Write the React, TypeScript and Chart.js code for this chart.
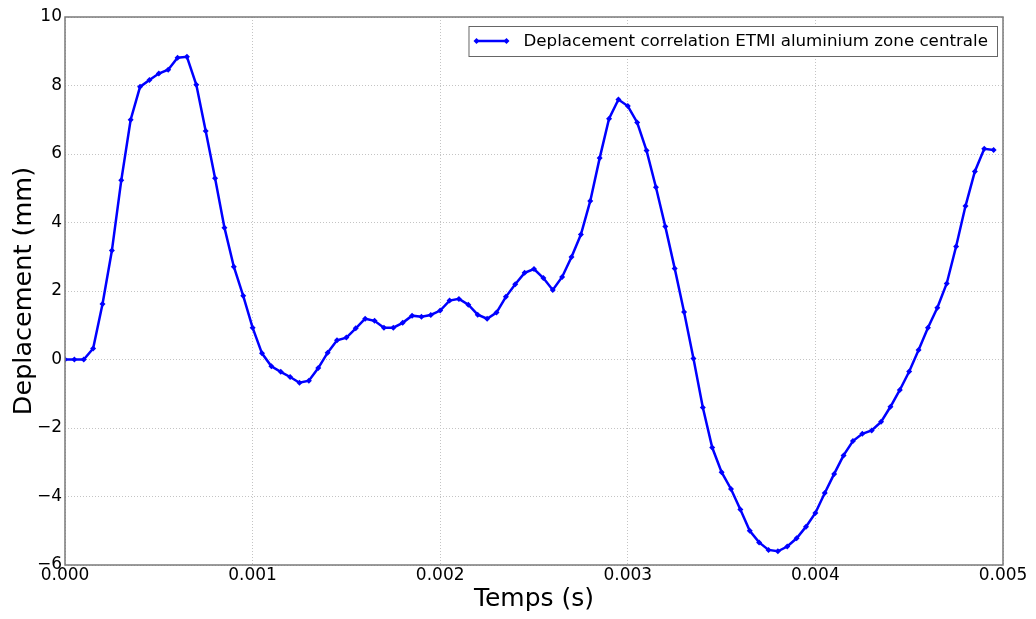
import React, { useEffect, useRef } from "react";
import { Chart, registerables } from "chart.js";

Chart.register(...registerables);

const TIMES: number[] = [
  0, 0.00005, 0.0001, 0.00015, 0.0002, 0.00025, 0.0003, 0.00035, 0.0004, 0.00045,
  0.0005, 0.00055, 0.0006, 0.00065, 0.0007, 0.00075, 0.0008, 0.00085, 0.0009, 0.00095,
  0.001, 0.00105, 0.0011, 0.00115, 0.0012, 0.00125, 0.0013, 0.00135, 0.0014, 0.00145,
  0.0015, 0.00155, 0.0016, 0.00165, 0.0017, 0.00175, 0.0018, 0.00185, 0.0019, 0.00195,
  0.002, 0.00205, 0.0021, 0.00215, 0.0022, 0.00225, 0.0023, 0.00235, 0.0024, 0.00245,
  0.0025, 0.00255, 0.0026, 0.00265, 0.0027, 0.00275, 0.0028, 0.00285, 0.0029, 0.00295,
  0.003, 0.00305, 0.0031, 0.00315, 0.0032, 0.00325, 0.0033, 0.00335, 0.0034, 0.00345,
  0.0035, 0.00355, 0.0036, 0.00365, 0.0037, 0.00375, 0.0038, 0.00385, 0.0039, 0.00395,
  0.004, 0.00405, 0.0041, 0.00415, 0.0042, 0.00425, 0.0043, 0.00435, 0.0044, 0.00445,
  0.0045, 0.00455, 0.0046, 0.00465, 0.0047, 0.00475, 0.0048, 0.00485, 0.0049, 0.00495,
];

const DEPLACEMENT: number[] = [
  0, 0, 0, 0.32, 1.62, 3.18, 5.23, 7.0, 7.96, 8.16,
  8.35, 8.46, 8.81, 8.84, 8.02, 6.67, 5.29, 3.85, 2.71, 1.86,
  0.93, 0.18, -0.2, -0.36, -0.51, -0.68, -0.62, -0.25, 0.2, 0.56,
  0.64, 0.91, 1.19, 1.13, 0.93, 0.93, 1.07, 1.28, 1.25, 1.3,
  1.43, 1.72, 1.77, 1.6, 1.31, 1.19, 1.37, 1.83, 2.2, 2.53,
  2.64, 2.38, 2.03, 2.41, 2.99, 3.65, 4.63, 5.88, 7.03, 7.59,
  7.4, 6.92, 6.1, 5.03, 3.88, 2.66, 1.39, 0.03, -1.4, -2.57,
  -3.29, -3.78, -4.38, -5.0, -5.34, -5.56, -5.6, -5.46, -5.22, -4.88,
  -4.48, -3.9, -3.34, -2.8, -2.38, -2.17, -2.07, -1.82, -1.38, -0.89,
  -0.35, 0.28, 0.93, 1.51, 2.22, 3.3, 4.48, 5.49, 6.15, 6.12,
];

const SERIES_LABEL = "Deplacement correlation ETMI aluminium zone centrale";
const X_TITLE = "Temps (s)";
const Y_TITLE = "Deplacement (mm)";
const X_MIN = 0;
const X_MAX = 0.005;
const X_STEP = 0.001;
const Y_MIN = -6;
const Y_MAX = 10;
const Y_STEP = 2;

const FONT = "'DejaVu Sans', 'Bitstream Vera Sans', sans-serif";
const BLUE = "#0000ff";
const FRAME = "#7a7a7a";

const whiteBg = {
  id: "whiteBg",
  beforeDraw(chart: any) {
    const { ctx, width, height } = chart;
    ctx.save();
    ctx.fillStyle = "#ffffff";
    ctx.fillRect(0, 0, width, height);
    ctx.restore();
  },
};

const frameAndLegend = {
  id: "frameAndLegend",
  afterDraw(chart: any) {
    const { ctx, chartArea } = chart;
    const { left, top, right, bottom } = chartArea;
    ctx.save();
    // frame
    ctx.strokeStyle = FRAME;
    ctx.lineWidth = 1.5;
    ctx.strokeRect(left, top, right - left, bottom - top);

    // legend box
    const ds = chart.data.datasets[0];
    ctx.font = `16.7px ${FONT}`;
    const textW = ctx.measureText(ds.label).width;
    const boxH = 30;
    const padL = 8;
    const lineW = 30;
    const gap = 17;
    const padR = 9;
    const boxW = padL + lineW + gap + textW + padR;
    const bx = right - 6 - boxW;
    const by = top + 9;
    ctx.fillStyle = "#ffffff";
    ctx.fillRect(bx, by, boxW, boxH);
    ctx.strokeStyle = "#666666";
    ctx.lineWidth = 1;
    ctx.strokeRect(bx + 0.5, by + 0.5, boxW, boxH);
    const cy = by + boxH / 2;
    const lx0 = bx + padL;
    const lx1 = lx0 + lineW;
    ctx.strokeStyle = ds.borderColor;
    ctx.lineWidth = ds.borderWidth;
    ctx.beginPath();
    ctx.moveTo(lx0, cy);
    ctx.lineTo(lx1, cy);
    ctx.stroke();
    ctx.fillStyle = ds.pointBackgroundColor;
    for (const px of [lx0, lx1]) {
      const r = ds.pointRadius;
      ctx.beginPath();
      ctx.moveTo(px, cy - r);
      ctx.lineTo(px + r, cy);
      ctx.lineTo(px, cy + r);
      ctx.lineTo(px - r, cy);
      ctx.closePath();
      ctx.fill();
    }
    ctx.fillStyle = "#000000";
    ctx.textBaseline = "middle";
    ctx.textAlign = "left";
    ctx.fillText(ds.label, lx1 + gap, cy + 1);
    ctx.restore();
  },
};

const fmtY = (v: number) => (v < 0 ? "\u2212" + Math.abs(v) : String(v));

export default function App() {
  const ref = useRef<HTMLCanvasElement>(null);

  useEffect(() => {
    document.body.style.margin = "0";
    const canvas = ref.current!;
    const points = TIMES.map((t, i) => ({ x: t, y: DEPLACEMENT[i] }));
    const chart = new Chart(canvas, {
      type: "line",
      data: {
        datasets: [
          {
            label: SERIES_LABEL,
            data: points,
            borderColor: BLUE,
            backgroundColor: BLUE,
            pointBackgroundColor: BLUE,
            pointBorderColor: BLUE,
            borderWidth: 2.5,
            pointStyle: "rectRot",
            pointRadius: 3,
            pointBorderWidth: 0,
            tension: 0,
            fill: false,
          },
        ],
      },
      options: {
        responsive: false,
        animation: false,
        events: [],
        layout: { padding: { top: 17, right: 33, bottom: 0, left: 0 } },
        plugins: {
          legend: { display: false },
          tooltip: { enabled: false },
        },
        scales: {
          x: {
            type: "linear",
            min: X_MIN,
            max: X_MAX,
            afterFit(scale: any) {
              scale.height = 54;
            },
            afterBuildTicks(scale: any) {
              const ticks = [];
              for (let v = X_MIN; v <= X_MAX + 1e-9; v += X_STEP) ticks.push({ value: v });
              scale.ticks = ticks;
            },
            ticks: {
              color: "#000000",
              font: { family: FONT, size: 17, lineHeight: 1 },
              padding: 2,
              maxRotation: 0,
              autoSkip: false,
              callback: (v: any) => Number(v).toFixed(3),
            },
            grid: {
              color: "#c4c4c4",
              lineWidth: 1,
              drawTicks: false,
            },
            border: { display: false, dash: [1, 2] },
            title: {
              display: true,
              text: X_TITLE,
              color: "#000000",
              font: { family: FONT, size: 25, lineHeight: 1.2 },
              padding: { top: 0, bottom: 5 },
            },
          },
          y: {
            type: "linear",
            min: Y_MIN,
            max: Y_MAX,
            afterFit(scale: any) {
              scale.width = 65;
            },
            ticks: {
              stepSize: Y_STEP,
              color: "#000000",
              font: { family: FONT, size: 17 },
              padding: 3,
              callback: (v: any) => fmtY(Number(v)),
            },
            grid: {
              color: "#c4c4c4",
              lineWidth: 1,
              drawTicks: false,
            },
            border: { display: false, dash: [1, 2] },
            title: {
              display: true,
              text: Y_TITLE,
              color: "#000000",
              font: { family: FONT, size: 25.5, lineHeight: 1.2 },
              padding: { top: 9, bottom: 0 },
            },
          },
        },
      },
      plugins: [whiteBg, frameAndLegend],
    });
    return () => chart.destroy();
  }, []);

  return (
    <div style={{ position: "fixed", left: 0, top: 0, width: 1036, height: 619 }}>
      <canvas ref={ref} width={1036} height={619} />
    </div>
  );
}
